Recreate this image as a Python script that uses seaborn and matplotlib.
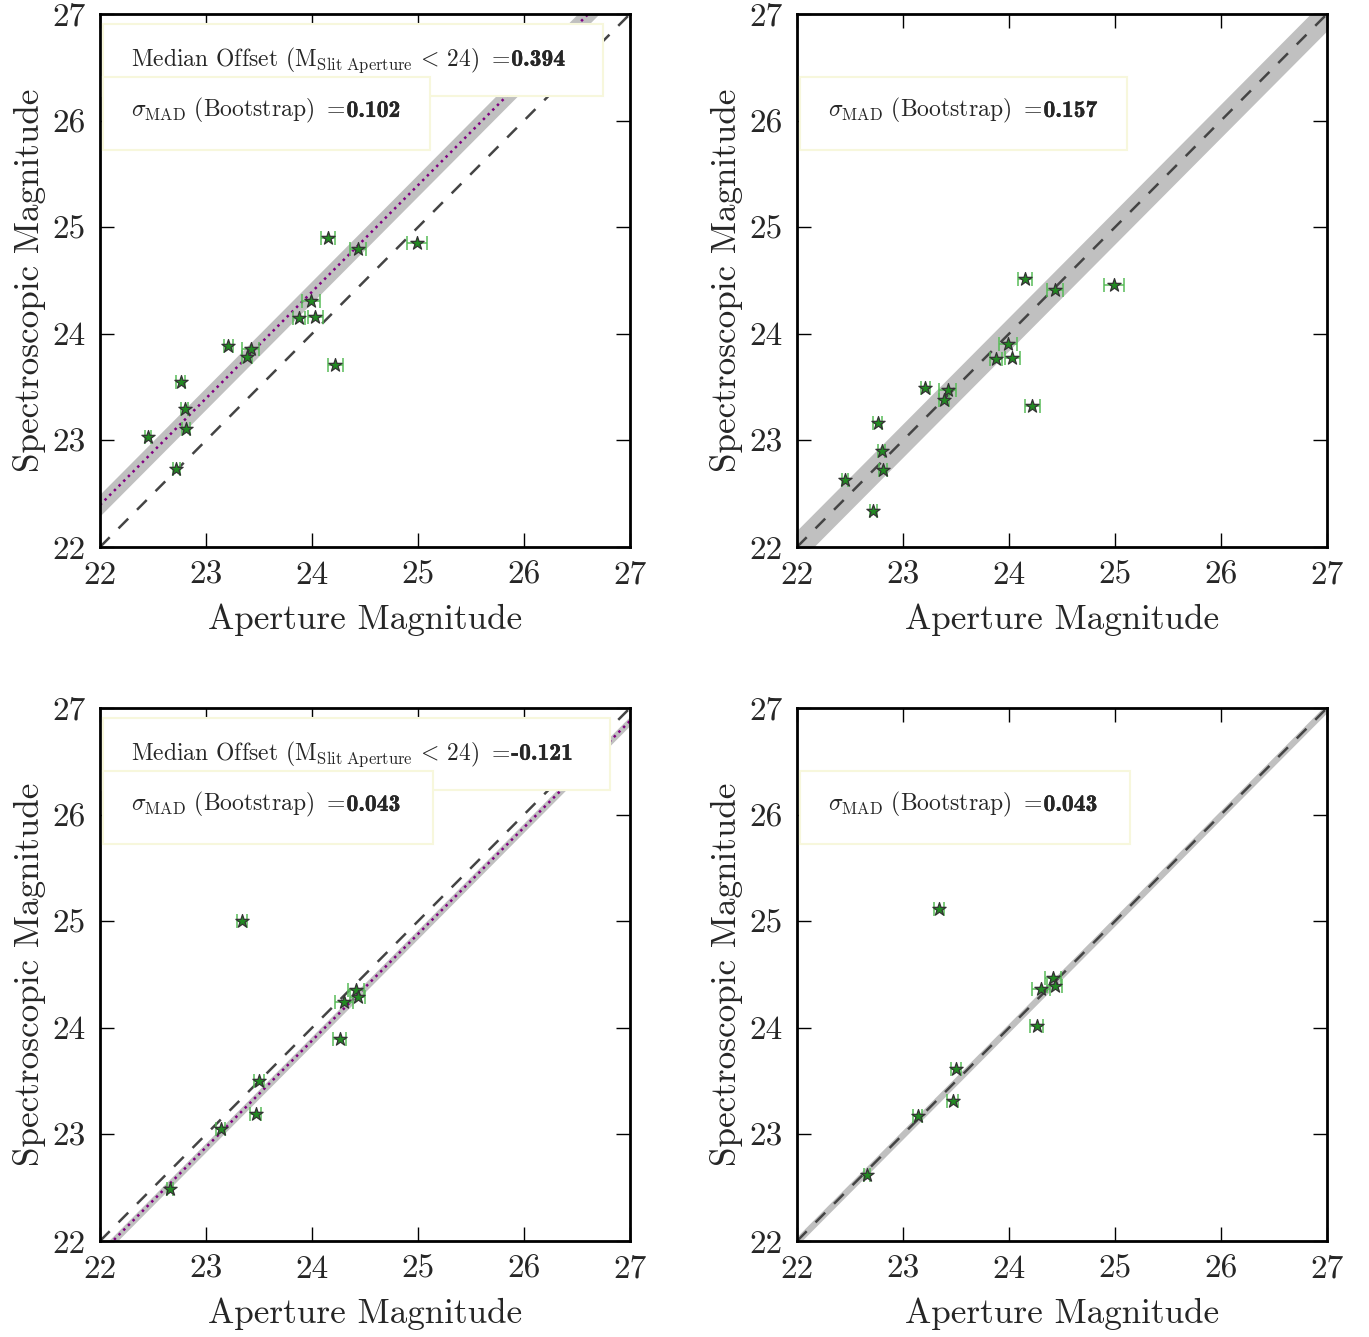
import numpy as np
import pandas as pd
import matplotlib
matplotlib.use("Agg")
import matplotlib.pyplot as plt
import matplotlib.patheffects as pe
from matplotlib.patches import Rectangle
import seaborn as sns

# ---------------- data ----------------
# top row: 15 sources
top_aper = [24.15, 24.43, 24.99, 23.99, 23.88, 24.03, 23.21, 23.42, 23.39, 24.22,
            22.76, 22.80, 22.81, 22.45, 22.72]
top_aper_err = [0.066, 0.075, 0.094, 0.083, 0.058, 0.072, 0.041, 0.082, 0.047, 0.069,
                0.039, 0.033, 0.036, 0.027, 0.035]
top_spec_left = [24.90, 24.80, 24.85, 24.31, 24.15, 24.16, 23.89, 23.86, 23.78, 23.71,
                 23.55, 23.29, 23.11, 23.03, 22.73]
top_spec_right = [24.51, 24.41, 24.46, 23.90, 23.76, 23.77, 23.49, 23.47, 23.38, 23.32,
                  23.16, 22.90, 22.72, 22.63, 22.34]

# bottom row: 9 sources
bot_aper = [23.34, 24.415, 24.43, 24.30, 24.26, 23.50, 23.47, 23.14, 22.66]
bot_aper_err = [0.047, 0.079, 0.074, 0.087, 0.064, 0.044, 0.052, 0.042, 0.030]
bot_spec_left = [25.00, 24.355, 24.29, 24.24, 23.895, 23.50, 23.19, 23.05, 22.49]
bot_spec_right = [25.11, 24.47, 24.39, 24.36, 24.02, 23.61, 23.31, 23.17, 22.62]

offsets = [0.394, None, -0.121, None]
offset_labels = ["0.394", None, "-0.121", None]
sigmas = [0.102, 0.157, 0.043, 0.043]
sigma_labels = ["0.102", "0.157", "0.043", "0.043"]
tick_vals = [22, 23, 24, 25, 26, 27]

# ---------------- style ----------------
sns.set_style("ticks")
plt.rcParams["font.family"] = "serif"
plt.rcParams["font.serif"] = ["cmr10"]
plt.rcParams["mathtext.fontset"] = "cm"
plt.rcParams["axes.unicode_minus"] = False
plt.rcParams["axes.formatter.use_mathtext"] = True

W, H = 1369, 1337
fig = plt.figure(figsize=(W / 100, H / 100), dpi=100)
renderer = fig.canvas.get_renderer()

lefts = [100 / W, 797 / W]
bottoms = [1 - 547 / H, 1 - 1241 / H]
aw, ah = 530 / W, 533 / H

panels = [
    (lefts[0], bottoms[0], top_aper, top_aper_err, top_spec_left, 0),
    (lefts[1], bottoms[0], top_aper, top_aper_err, top_spec_right, 1),
    (lefts[0], bottoms[1], bot_aper, bot_aper_err, bot_spec_left, 2),
    (lefts[1], bottoms[1], bot_aper, bot_aper_err, bot_spec_right, 3),
]

TXT = 17
box_ec = "#f7f7dc"

def label_with_bold(ax, x, y, pre, num, z):
    t = ax.text(x, y, pre, transform=ax.transAxes, fontsize=TXT, va="baseline",
                ha="left", zorder=z)
    bb = t.get_window_extent(renderer)
    xe = ax.transAxes.inverted().transform((bb.x1, bb.y0))[0]
    ax.text(xe + 0.002, y, num, transform=ax.transAxes, family="cmb10",
            fontsize=TXT, va="baseline", ha="left", zorder=z,
            path_effects=[pe.withStroke(linewidth=0.25, foreground="black")])

for (l, b, xa, xe, ys, i) in panels:
    off, sig = offsets[i], sigmas[i]
    ax = fig.add_axes([l, b, aw, ah])
    xx = np.array([22, 27])
    centre = 0.0 if off is None else off
    ax.fill_between(xx, xx + centre - sig, xx + centre + sig, color="#c0c0c0",
                    linewidth=0, zorder=1)
    ax.plot(xx, xx, color="#444444", linestyle=(0, (5.5, 5.0)), linewidth=1.8, zorder=2)
    if off is not None:
        ax.plot(xx, xx + off, color="purple", linestyle=":", linewidth=1.8, zorder=2)

    df = pd.DataFrame({"aper": xa, "spec": ys, "err": xe})
    ax.errorbar(df["aper"], df["spec"], xerr=df["err"], fmt="none",
                ecolor="#55bb55", elinewidth=1.2, capsize=5, capthick=1.2,
                alpha=0.9, zorder=3)
    sns.scatterplot(data=df, x="aper", y="spec", marker="*", s=100,
                    color="forestgreen", edgecolor="#333333", linewidth=0.9,
                    ax=ax, zorder=4, legend=False)

    ax.set_xlim(22, 27)
    ax.set_ylim(22, 27)
    ax.set_xticks(tick_vals)
    ax.set_yticks(tick_vals)
    ax.set_xticklabels([str(t) for t in tick_vals])
    ax.set_yticklabels([str(t) for t in tick_vals])
    ax.tick_params(direction="in", top=True, right=True, length=10, width=1,
                   labelsize=24, pad=10, color="black")
    for sp in ax.spines.values():
        sp.set_linewidth(2)
        sp.set_color("black")
    ax.set_xlabel("Aperture Magnitude", fontsize=25.3, labelpad=10)
    ax.set_ylabel("Spectroscopic Magnitude", fontsize=25.3, labelpad=5)

    # text boxes
    if off is not None:
        right = 0.949 if i == 0 else 0.962
        ax.add_patch(Rectangle((0.006, 0.846), right - 0.006, 0.135,
                               transform=ax.transAxes, facecolor="white",
                               edgecolor=box_ec, linewidth=1.5, zorder=10))
        label_with_bold(ax, 0.0585, 0.903,
                        r"Median Offset ($\mathrm{M_{Slit\ Aperture}}\,<\,24$) $=$",
                        offset_labels[i], 10.5)
    bw = 0.623 if i in (0, 1) else 0.628
    ax.add_patch(Rectangle((0.006, 0.744), bw - 0.006, 0.138,
                           transform=ax.transAxes, facecolor="white",
                           edgecolor=box_ec, linewidth=1.5, zorder=11))
    label_with_bold(ax, 0.0585, 0.807,
                    r"$\sigma_{\mathrm{MAD}}$ (Bootstrap) $=$", sigma_labels[i], 11.5)

fig.savefig("out.png", dpi=100)
